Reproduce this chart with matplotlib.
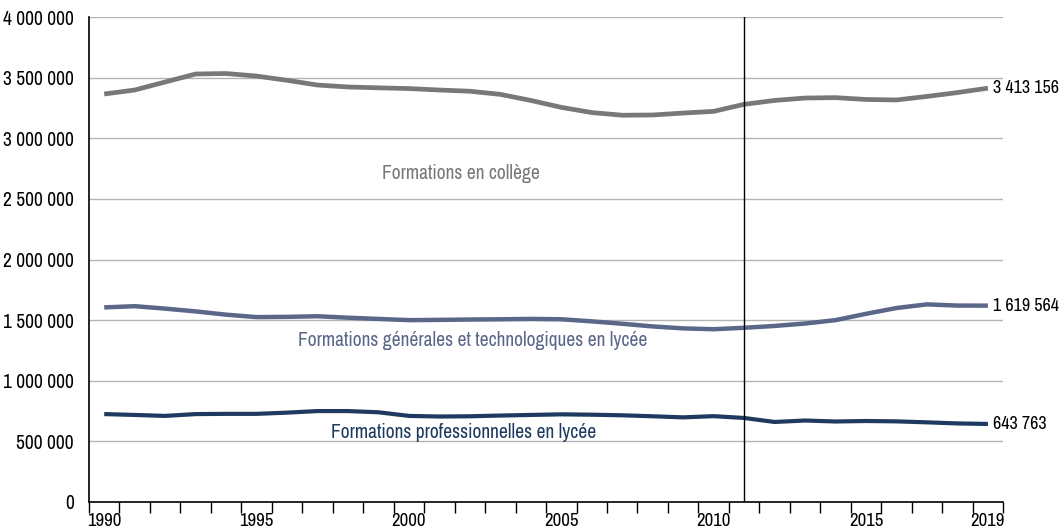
import numpy as np
import matplotlib.pyplot as plt
from matplotlib.ticker import FuncFormatter

plt.rcParams['font.family'] = ['Archivo Narrow', 'Liberation Sans Narrow', 'DejaVu Sans']

years = list(range(1990, 2020))
college = [3365000, 3398000, 3464000, 3530000, 3534000, 3513000, 3478000, 3439000,
           3423000, 3416000, 3410000, 3398000, 3388000, 3362000, 3312000, 3255000,
           3212000, 3190000, 3192000, 3208000, 3222000, 3280000, 3312000, 3332000,
           3335000, 3320000, 3316000, 3345000, 3377000, 3413156]
lycee_gt = [1605000, 1615000, 1595000, 1572000, 1545000, 1525000, 1527000, 1532000,
            1520000, 1510000, 1500000, 1502000, 1505000, 1507000, 1510000, 1507000,
            1490000, 1470000, 1448000, 1432000, 1425000, 1437000, 1452000, 1472000,
            1500000, 1552000, 1600000, 1630000, 1620000, 1619564]
lycee_pro = [725000, 718000, 710000, 725000, 727000, 727000, 737000, 750000,
             750000, 740000, 710000, 705000, 707000, 713000, 718000, 723000,
             720000, 715000, 707000, 698000, 708000, 693000, 660000, 672000,
             664000, 668000, 665000, 657000, 648000, 643763]
xtick_years = [1990, 1995, 2000, 2005, 2010, 2015, 2019]
marker_year = 2011

c_col = '#787878'
c_gt = '#5b6789'
c_pro = '#1e3a60'
fs = 14

x = np.arange(len(years))

fig = plt.figure(figsize=(10.63, 5.32), dpi=100)
ax = fig.add_axes([0.0837, 0.0564, 0.86, 0.9116])

ax.plot(x, college, color=c_col, lw=3.4, solid_capstyle='butt', solid_joinstyle='round', zorder=3)
ax.plot(x, lycee_gt, color=c_gt, lw=3.2, solid_capstyle='butt', solid_joinstyle='round', zorder=3)
ax.plot(x, lycee_pro, color=c_pro, lw=3.0, solid_capstyle='butt', solid_joinstyle='round', zorder=3)

ax.axvline(years.index(marker_year), color='black', lw=1, zorder=4)

ax.set_xlim(-0.5, len(years) - 0.5)
ax.set_ylim(0, 4000000)

# axe y
ax.set_yticks(np.arange(0, 4000001, 500000))
ax.yaxis.set_major_formatter(FuncFormatter(lambda v, p: f'{int(v):,}'.replace(',', ' ')))
ax.tick_params(axis='y', length=0, pad=11, labelsize=fs)
ax.grid(axis='y', color='#b4b4b4', lw=1)
ax.set_axisbelow(True)

# axe x : graduations entre les années, libellés centrés
ax.set_xticks(np.arange(-0.5, len(years), 1.0))
ax.set_xticklabels([])
ax.tick_params(axis='x', which='major', direction='out', length=8, width=1, color='black')
ax.set_xticks([years.index(y) for y in xtick_years], minor=True)
ax.set_xticklabels([str(y) for y in xtick_years], minor=True)
ax.tick_params(axis='x', which='minor', length=0, pad=8, labelsize=13.5)

for s in ['top', 'right']:
    ax.spines[s].set_visible(False)
ax.spines['left'].set_linewidth(1.2)
ax.spines['bottom'].set_linewidth(1.2)

# valeurs finales
for series in [college, lycee_gt, lycee_pro]:
    ax.annotate(f'{series[-1]:,}'.replace(',', ' '), xy=(x[-1], series[-1]),
                xytext=(4, 0), textcoords='offset points', va='center', ha='left',
                fontsize=13, annotation_clip=False)

# noms des séries
ax.text(11.7, 2713000, 'Formations en collège', color=c_col, fontsize=fs, ha='center', va='center')
ax.text(12.1, 1336000, 'Formations générales et technologiques en lycée',
        color=c_gt, fontsize=fs, ha='center', va='center')
ax.text(11.8, 577000, 'Formations professionnelles en lycée', color=c_pro, fontsize=fs,
        ha='center', va='center')

fig.savefig('out.png', dpi=100)
